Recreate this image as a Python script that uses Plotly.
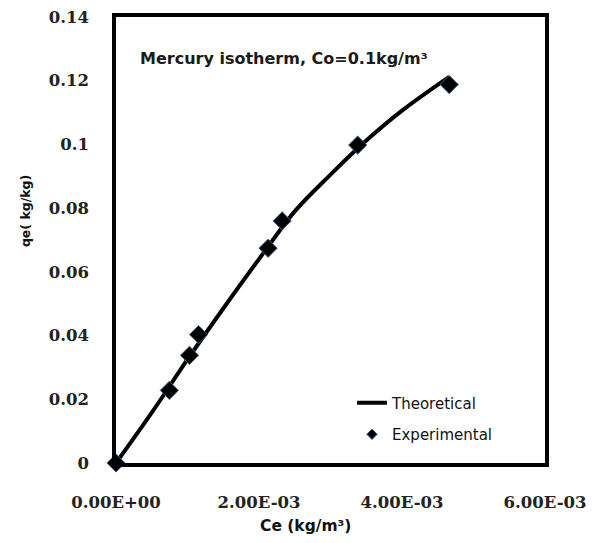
import plotly.graph_objects as go

# Experimental equilibrium data: Ce (kg/m3) vs qe (kg/kg)
ce_exp = [0.0, 0.746e-3, 1.028e-3, 1.155e-3, 2.127e-3, 2.324e-3, 3.38e-3, 4.66e-3]
qe_exp = [0.0, 0.0228, 0.0338, 0.0403, 0.0674, 0.0760, 0.0998, 0.1188]

# Theoretical isotherm curve
ce_th = [0.0, 0.5e-3, 1.0e-3, 1.5e-3, 2.0e-3, 2.5e-3, 3.0e-3, 3.5e-3, 4.0e-3, 4.66e-3]
qe_th = [0.0, 0.0158, 0.0325, 0.0485, 0.0640, 0.0790, 0.0905, 0.1012, 0.1106, 0.1212]

x_ticks = [0.0, 2e-3, 4e-3, 6e-3]
x_tick_text = ["0.00E+00", "2.00E-03", "4.00E-03", "6.00E-03"]
y_ticks = [0, 0.02, 0.04, 0.06, 0.08, 0.1, 0.12, 0.14]
y_tick_text = ["0", "0.02", "0.04", "0.06", "0.08", "0.1", "0.12", "0.14"]

tick_font = dict(family="DejaVu Serif", size=16.5, color="#222222", weight="bold")


def px_x(p):
    # pixel column -> paper x
    return (p - 116) / 429


def px_y(p):
    # pixel row -> paper y
    return (463 - p) / 455


fig = go.Figure()
fig.add_trace(go.Scatter(
    x=ce_th, y=qe_th, mode="lines", name="Theoretical", legendgroup="a",
    line=dict(color="black", width=4, shape="spline", smoothing=1.0),
))
fig.add_trace(go.Scatter(
    x=ce_exp, y=qe_exp, mode="markers", name="Experimental", showlegend=False,
    marker=dict(symbol="diamond", size=14, color="black",
                line=dict(color="#3b5f93", width=1)),
    cliponaxis=False,
))
# legend entry for the experimental points, drawn with a smaller symbol
fig.add_trace(go.Scatter(
    x=[None], y=[None], mode="markers", name="Experimental", legendgroup="b",
    marker=dict(symbol="diamond", size=8, color="black",
                line=dict(color="#3b5f93", width=1)),
))

fig.update_layout(
    width=600, height=543,
    margin=dict(l=116, r=55, t=8, b=80),
    paper_bgcolor="white", plot_bgcolor="white",
    showlegend=True,
    legend=dict(
        x=px_x(352), y=px_y(385), xanchor="left", yanchor="top",
        bgcolor="rgba(0,0,0,0)",
        font=dict(family="DejaVu Sans", size=15, color="#111111"),
        tracegroupgap=9,
    ),
    annotations=[
        dict(
            text="Mercury isotherm, Co=0.1kg/m³",
            xref="paper", yref="paper", x=px_x(138), y=px_y(50),
            xanchor="left", yanchor="middle", showarrow=False,
            font=dict(family="DejaVu Sans", size=16, color="#1a1a1a", weight="bold"),
        ),
        dict(
            text="qe( kg/kg)", textangle=-90,
            xref="paper", yref="paper", x=px_x(25), y=px_y(206),
            xanchor="center", yanchor="middle", showarrow=False,
            font=dict(family="DejaVu Sans", size=12.5, color="#111111", weight="bold"),
        ),
        dict(
            text="Ce (kg/m³)",
            xref="paper", yref="paper", x=px_x(305), y=px_y(527),
            xanchor="center", yanchor="middle", showarrow=False,
            font=dict(family="DejaVu Sans", size=15.5, color="#111111", weight="bold"),
        ),
    ],
)

fig.update_xaxes(
    range=[0, 0.006], tickvals=x_ticks, ticktext=x_tick_text,
    tickfont=tick_font, ticks="", showgrid=False, zeroline=False,
    showline=True, linecolor="black", linewidth=3.5, mirror=True,
    ticklabelstandoff=21,
)
fig.update_yaxes(
    range=[0, 0.14], tickvals=y_ticks, ticktext=y_tick_text,
    tickfont=tick_font, ticks="", showgrid=False, zeroline=False,
    showline=True, linecolor="black", linewidth=3.5, mirror=True,
    ticklabelstandoff=20,
)

fig.write_html("out.html")
